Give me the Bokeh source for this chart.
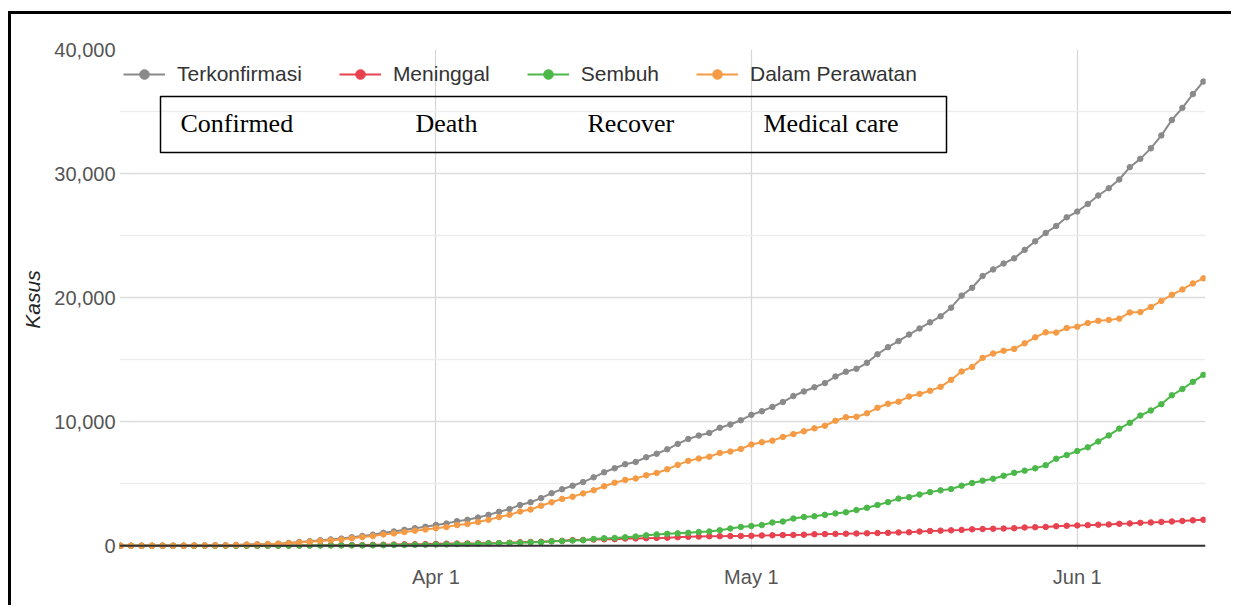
import pandas as pd
from bokeh.plotting import figure
from bokeh.models import Range1d, FixedTicker, Legend, LegendItem, BoxAnnotation, Label, Span, NumeralTickFormatter
from bokeh.embed import file_html
from bokeh.resources import INLINE

# ---------------- data ----------------
start_date = "2020-03-02"
end_date = "2020-06-13"

confirmed = [2, 2, 2, 2, 4, 4, 6, 19, 27, 34, 34, 69, 96, 117, 134, 172, 227, 309, 369, 450,
             514, 579, 686, 790, 893, 1046, 1155, 1285, 1414, 1528,
             1677, 1790, 1986, 2092, 2273, 2491, 2738, 2956, 3293, 3512, 3842, 4241, 4557, 4839, 5136,
             5516, 5923, 6248, 6575, 6760, 7135, 7418, 7775, 8211, 8607, 8882, 9096, 9511, 9771, 10118,
             10551, 10843, 11192, 11587, 12071, 12438, 12776, 13112, 13645, 14032, 14265, 14749, 15438,
             16006, 16496, 17025, 17514, 18010, 18496, 19189, 20162, 20796, 21745, 22271, 22750, 23165,
             23851, 24538, 25216, 25773, 26473,
             26940, 27549, 28233, 28818, 29521, 30514, 31186, 32033, 33076, 34316, 35295, 36406, 37420]

deaths = [0, 0, 0, 0, 0, 0, 0, 0, 0, 1, 1, 4, 5, 5, 5, 5, 19, 25, 32, 38,
          48, 49, 55, 58, 78, 87, 102, 114, 122, 136,
          157, 170, 181, 191, 198, 209, 221, 240, 280, 306, 327, 373, 399, 459, 469,
          496, 520, 535, 582, 590, 616, 635, 647, 689, 720, 743, 765, 773, 784, 792,
          800, 831, 845, 864, 872, 895, 930, 943, 959, 973, 991, 1007, 1028, 1043, 1076,
          1089, 1148, 1191, 1221, 1242, 1278, 1326, 1351, 1372, 1391, 1418, 1473, 1496, 1520, 1573, 1613,
          1641, 1663, 1698, 1721, 1770, 1801, 1851, 1883, 1923, 1959, 2000, 2048, 2091]

recovered = [0, 0, 0, 0, 0, 0, 0, 0, 2, 2, 3, 5, 8, 8, 8, 9, 11, 15, 16, 20,
             29, 30, 30, 31, 35, 46, 59, 64, 75, 81,
             103, 112, 134, 150, 164, 192, 204, 222, 252, 282, 286, 359, 380, 426, 446,
             548, 607, 631, 686, 747, 842, 913, 960, 1002, 1042, 1107, 1151, 1254, 1391, 1522,
             1591, 1665, 1876, 1954, 2197, 2317, 2381, 2494, 2607, 2698, 2881, 3063, 3287, 3518, 3803,
             3911, 4129, 4324, 4467, 4575, 4838, 5057, 5249, 5402, 5642, 5877, 6057, 6240, 6492, 7015, 7308,
             7637, 7935, 8406, 8892, 9443, 9907, 10498, 10904, 11414, 12129, 12636, 13213, 13776]

active = [2, 2, 2, 2, 4, 4, 6, 19, 25, 31, 30, 60, 83, 104, 121, 158, 197, 269, 321, 392,
          437, 500, 601, 701, 780, 913, 994, 1107, 1217, 1311,
          1417, 1508, 1671, 1751, 1911, 2090, 2313, 2494, 2761, 2924, 3229, 3509, 3778, 3954, 4221,
          4472, 4796, 5082, 5307, 5423, 5677, 5870, 6168, 6520, 6845, 7032, 7180, 7484, 7596, 7804,
          8160, 8347, 8471, 8769, 9002, 9226, 9465, 9675, 10079, 10361, 10393, 10679, 11123, 11445, 11617,
          12025, 12237, 12495, 12808, 13372, 14046, 14413, 15145, 15497, 15717, 15870, 16321, 16802, 17204,
          17185, 17552,
          17662, 17951, 18129, 18205, 18308, 18806, 18837, 19246, 19739, 20228, 20659, 21145, 21553]

series_names = ["Terkonfirmasi", "Meninggal", "Sembuh", "Dalam Perawatan"]
series_colors = ["#8a8a8a", "#e8414f", "#4cb84a", "#f59b45"]
series_values = [confirmed, deaths, recovered, active]

tick_dates = ["2020-04-01", "2020-05-01", "2020-06-01"]
tick_labels = ["Apr 1", "May 1", "Jun 1"]
y_major = [0, 10000, 20000, 30000, 40000]
y_minor = [5000, 15000, 25000, 35000]
annot_labels = ["Confirmed", "Death", "Recover", "Medical care"]

# ---------------- geometry (page pixels) ----------------
PAGE_TOP = 14          # 11 margin + 3 border
PAGE_LEFT = 11         # 8 margin + 3 border
W, H = 1223, 594
FR_L, FR_R, FR_T, FR_B = 119, 1205, 49, 549
X0, X1 = -0.1, 103.2
Y0, Y1 = -300, 40000

def px_x(px):
    return X0 + (px - FR_L) * (X1 - X0) / (FR_R - FR_L)

def px_y(py):
    return Y1 - (py - FR_T) * (Y1 - Y0) / (FR_B - FR_T)

dates = pd.date_range(start_date, end_date)
days = list((dates - dates[0]).days)
tick_days = [(pd.Timestamp(d) - dates[0]).days for d in tick_dates]

FONT = "Liberation Sans"

p = figure(width=W, height=H, output_backend="svg", toolbar_location=None,
           x_range=Range1d(X0, X1), y_range=Range1d(Y0, Y1),
           min_border_left=FR_L - PAGE_LEFT, min_border_right=PAGE_LEFT + W - FR_R,
           min_border_top=FR_T - PAGE_TOP, min_border_bottom=PAGE_TOP + H - FR_B,
           background_fill_color="white", border_fill_color="white",
           styles={"border-left": "3px solid black", "border-top": "3px solid black",
                   "margin-top": "11px", "margin-left": "8px"})
p.outline_line_color = None

# axes
p.xaxis.ticker = FixedTicker(ticks=tick_days)
p.xaxis.major_label_overrides = {d: l for d, l in zip(tick_days, tick_labels)}
p.xaxis.axis_line_color = None
p.xaxis.major_tick_line_color = None
p.xaxis.minor_tick_line_color = None
p.xaxis.major_label_standoff = 10
p.xaxis.major_label_text_font = FONT
p.xaxis.major_label_text_font_size = "20px"
p.xaxis.major_label_text_color = "#555555"

p.yaxis.ticker = FixedTicker(ticks=y_major, minor_ticks=y_minor)
p.yaxis.formatter = NumeralTickFormatter(format="0,0")
p.yaxis.axis_line_color = None
p.yaxis.major_tick_line_color = None
p.yaxis.minor_tick_line_color = None
p.yaxis.major_label_standoff = -2
p.yaxis.major_label_text_font = FONT
p.yaxis.major_label_text_font_size = "20px"
p.yaxis.major_label_text_color = "#555555"
p.yaxis.axis_label = "Kasus"
p.yaxis.axis_label_text_font = FONT
p.yaxis.axis_label_text_font_style = "italic"
p.yaxis.axis_label_text_font_size = "21px"
p.yaxis.axis_label_text_color = "#222222"
p.yaxis.axis_label_standoff = 7

# grids
p.xgrid.grid_line_color = "#d6d6d6"
p.xgrid.grid_line_width = 1.2
p.ygrid.grid_line_color = "#dcdcdc"
p.ygrid.grid_line_width = 1.5
p.ygrid.minor_grid_line_color = "#ededed"
p.ygrid.minor_grid_line_width = 1.5

# baseline at zero
p.add_layout(Span(location=0, dimension="width", line_color="#333333", line_width=2))

# series
items = []
for name, color, vals in zip(series_names, series_colors, series_values):
    lr = p.line(days, vals, line_color=color, line_width=2)
    sr = p.scatter(days, vals, marker="circle", size=5.5, fill_color=color, line_color=color)
    items.append(LegendItem(label=name, renderers=[lr, sr]))

legend = Legend(items=items, orientation="horizontal", location=(4, FR_B - 86),
                label_text_font=FONT, label_text_font_size="21px", label_text_color="#333333",
                glyph_width=42, glyph_height=24, label_height=24, label_standoff=12, spacing=37,
                padding=0, margin=0, border_line_color=None, background_fill_alpha=0)
p.add_layout(legend)

# annotation box with English translations
p.add_layout(BoxAnnotation(left=px_x(160), right=px_x(946), top=px_y(96), bottom=px_y(152),
                           fill_alpha=0, line_color="black", line_alpha=1.0, line_width=1.5))
for txt, lx in zip(annot_labels, [180, 415, 587, 763]):
    p.add_layout(Label(x=px_x(lx), y=px_y(123), text=txt, text_align="left",
                       text_baseline="alphabetic", text_font="Liberation Serif",
                       text_font_size="26px", text_color="black"))

open("out.html", "w").write(file_html(p, INLINE))
